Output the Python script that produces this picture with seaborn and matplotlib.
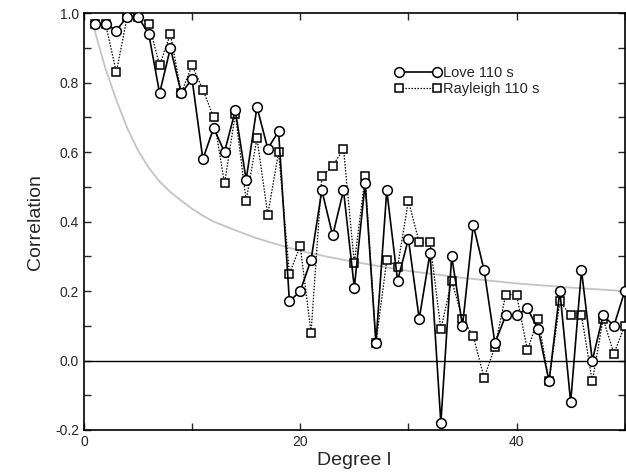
import matplotlib
matplotlib.use("Agg")
import matplotlib.pyplot as plt
from matplotlib.ticker import MultipleLocator
import seaborn as sns

sns.set_style("ticks")
plt.rcParams['font.family'] = ['Liberation Sans', 'DejaVu Sans']

# ---------- DATA ----------
degree = list(range(1, 51))

love = [0.97, 0.97, 0.95, 0.99, 0.99, 0.94, 0.77, 0.90, 0.77, 0.81,
        0.58, 0.67, 0.60, 0.72, 0.52, 0.73, 0.61, 0.66, 0.17, 0.20,
        0.29, 0.49, 0.36, 0.49, 0.21, 0.51, 0.05, 0.49, 0.23, 0.35,
        0.12, 0.31, -0.18, 0.30, 0.10, 0.39, 0.26, 0.05, 0.13, 0.13,
        0.15, 0.09, -0.06, 0.20, -0.12, 0.26, 0.00, 0.13, 0.10, 0.20]

rayleigh = [0.97, 0.97, 0.83, 0.99, 0.99, 0.97, 0.85, 0.94, 0.77, 0.85,
            0.78, 0.70, 0.51, 0.71, 0.46, 0.64, 0.42, 0.60, 0.25, 0.33,
            0.08, 0.53, 0.56, 0.61, 0.28, 0.53, 0.05, 0.29, 0.27, 0.46,
            0.34, 0.34, 0.09, 0.23, 0.12, 0.07, -0.05, 0.04, 0.19, 0.19,
            0.03, 0.12, -0.06, 0.17, 0.13, 0.13, -0.06, 0.12, 0.02, 0.10]

# grey reference curve
curve_l = [1, 2, 3, 4, 5, 6, 7, 8, 9, 10, 11, 12, 14, 16, 18, 20, 22,
           25, 28, 30, 35, 40, 45, 50]
curve_r = [0.95, 0.84, 0.75, 0.67, 0.605, 0.555, 0.515, 0.485, 0.46,
           0.437, 0.417, 0.40, 0.375, 0.352, 0.333, 0.316, 0.302, 0.284,
           0.268, 0.258, 0.238, 0.222, 0.21, 0.20]

# ---------- PLOT ----------
fig = plt.figure(figsize=(6.26, 4.72), dpi=100)
ax = fig.add_axes([0.134, 0.089, 0.864, 0.883])

sns.lineplot(x=curve_l, y=curve_r, ax=ax, color="#c4c4c4", lw=1.3, zorder=1)
ax.axhline(0, color="black", lw=1.0, zorder=1)

sns.lineplot(x=degree, y=rayleigh, ax=ax, color="black", lw=0.9,
             linestyle=(0, (1.2, 1.2)), marker="s", markersize=6,
             markerfacecolor="white", markeredgecolor="black",
             markeredgewidth=1.1, label="Rayleigh 110 s", zorder=3)
sns.lineplot(x=degree, y=love, ax=ax, color="black", lw=1.2,
             marker="o", markersize=7, markerfacecolor="white",
             markeredgecolor="black", markeredgewidth=1.1,
             label="Love 110 s", zorder=4)

ax.set_xlim(0, 50)
ax.set_ylim(-0.2, 1.0)
ax.xaxis.set_major_locator(MultipleLocator(20))
ax.xaxis.set_minor_locator(MultipleLocator(10))
ax.yaxis.set_major_locator(MultipleLocator(0.2))
ax.yaxis.set_minor_locator(MultipleLocator(0.1))
ax.yaxis.set_major_formatter(plt.FuncFormatter(lambda v, p: f"{v:.1f}"))
ax.tick_params(which="both", direction="in", top=True, right=True,
               length=5, width=1, labelsize=10)
for s in ax.spines.values():
    s.set_linewidth(1.2)
    s.set_color("black")

ax.set_xlabel("Degree l", fontsize=14, labelpad=2)
ax.set_ylabel("Correlation", fontsize=14, labelpad=8)

handles, labels = ax.get_legend_handles_labels()
order = [labels.index("Love 110 s"), labels.index("Rayleigh 110 s")]
ax.legend([handles[i] for i in order], [labels[i] for i in order],
          numpoints=2, frameon=False, loc="upper left",
          bbox_to_anchor=(0.55, 0.905), handlelength=3.2, handletextpad=0.1,
          labelspacing=0.15, fontsize=10.5)

fig.savefig("out.png", dpi=100)
